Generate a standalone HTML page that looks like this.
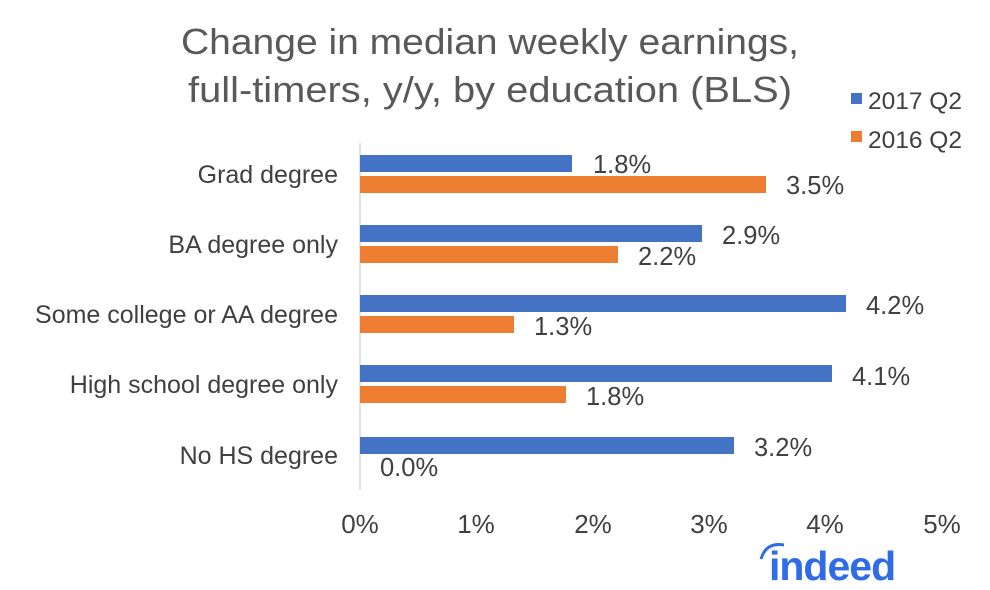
<!DOCTYPE html>
<html><head><style>body{margin:0;background:#fff}svg{display:block}</style></head><body>
<svg width="990" height="590" xmlns="http://www.w3.org/2000/svg" font-family="Liberation Sans, Arial, sans-serif">
<rect width="990" height="590" fill="#fff"/>
<text x="490" y="54" font-size="36" fill="#595959" text-anchor="middle" textLength="618" lengthAdjust="spacingAndGlyphs">Change in median weekly earnings,</text>
<text x="490" y="102" font-size="36" fill="#595959" text-anchor="middle" textLength="604" lengthAdjust="spacingAndGlyphs">full-timers, y/y, by education (BLS)</text>
<rect x="851" y="93" width="11" height="11" fill="#4472c4"/>
<text x="868" y="109" font-size="24.5" fill="#404040">2017 Q2</text>
<rect x="851" y="131" width="11" height="11" fill="#ed7d31"/>
<text x="868" y="148" font-size="24.5" fill="#404040">2016 Q2</text>
<line x1="360" y1="143" x2="360" y2="490" stroke="#d9d9d9" stroke-width="1.5"/>
<g fill="#4472c4">
<rect x="360" y="155" width="212" height="17"/>
<rect x="360" y="225" width="342" height="17"/>
<rect x="360" y="295" width="486" height="17"/>
<rect x="360" y="365" width="472" height="17"/>
<rect x="360" y="437" width="374" height="17"/>
</g>
<g fill="#ed7d31">
<rect x="360" y="176" width="406" height="17"/>
<rect x="360" y="246" width="258" height="17"/>
<rect x="360" y="316" width="154" height="17"/>
<rect x="360" y="386" width="206" height="17"/>
</g>
<g font-size="25.5" fill="#404040">
<text x="593" y="173">1.8%</text>
<text x="786" y="194">3.5%</text>
<text x="722" y="244">2.9%</text>
<text x="638" y="265">2.2%</text>
<text x="866" y="314">4.2%</text>
<text x="534" y="335">1.3%</text>
<text x="852" y="385">4.1%</text>
<text x="586" y="405">1.8%</text>
<text x="754" y="456">3.2%</text>
<text x="380" y="476">0.0%</text>
</g>
<g font-size="25" fill="#404040" text-anchor="end">
<text x="338" y="183">Grad degree</text>
<text x="338" y="253">BA degree only</text>
<text x="338" y="323">Some college or AA degree</text>
<text x="338" y="393">High school degree only</text>
<text x="338" y="464">No HS degree</text>
</g>
<g font-size="26" fill="#404040" text-anchor="middle">
<text x="360" y="533">0%</text>
<text x="476" y="533">1%</text>
<text x="593" y="533">2%</text>
<text x="709" y="533">3%</text>
<text x="825" y="533">4%</text>
<text x="942" y="533">5%</text>
</g>
<path d="M761 559 Q766 542 784 545" stroke="#2f6ce6" stroke-width="3" fill="none"/>
<text x="769" y="580" font-size="41" font-weight="bold" fill="#2f6ce6" letter-spacing="-1">indeed</text>
</svg>
</body></html>
